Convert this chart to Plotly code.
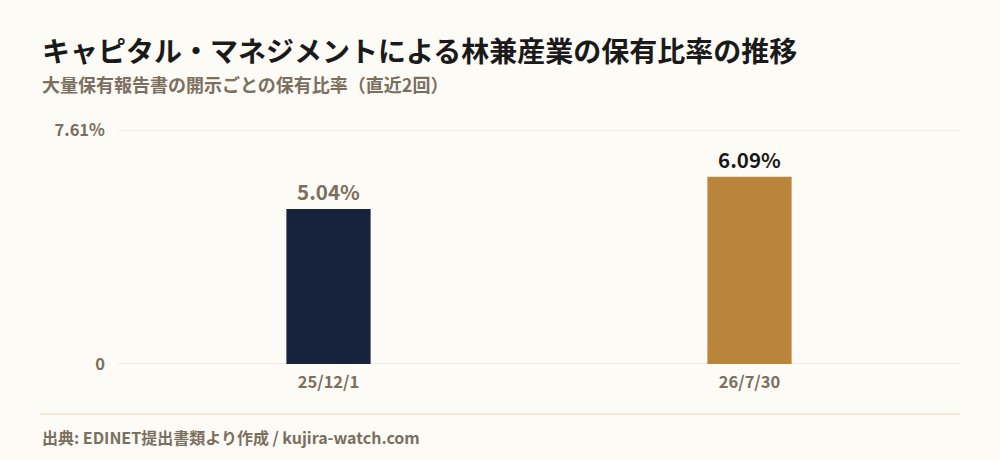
import plotly.graph_objects as go

# data
dates = ["25/12/1", "26/7/30"]
ratios = [5.04, 6.09]
y_max = 7.61
y_tickvals = [0, 7.61]
y_ticktext = ["0", "7.61%"]

TITLE = "キャピタル・マネジメントによる林兼産業の保有比率の推移"
SUBTITLE = "大量保有報告書の開示ごとの保有比率（直近2回）"
SOURCE = "出典: EDINET提出書類より作成 / kujira-watch.com"

BG = "#fdfbf6"
MUTED = "#7b6f60"
GRID = "#e8dbc3"
FONT = "Noto Sans CJK JP"

bar_colors = ["#17223b", "#b8853b"]
label_colors = [MUTED, "#1a1a1a"]

fig = go.Figure()
fig.add_trace(go.Bar(
    x=dates, y=ratios,
    marker=dict(color=bar_colors, line=dict(width=0)),
    width=0.2,
    text=[f"{v:.2f}%" for v in ratios],
    textposition="outside",
    textfont=dict(family=FONT, size=20.5, color=label_colors, weight="bold"),
    cliponaxis=False,
    hoverinfo="skip",
))

fig.update_layout(
    width=1000, height=460,
    paper_bgcolor=BG, plot_bgcolor=BG,
    margin=dict(l=118, r=40, t=130, b=96),
    showlegend=False,
    font=dict(family=FONT, color=MUTED),
)
fig.update_yaxes(
    range=[0, y_max], tickvals=y_tickvals, ticktext=y_ticktext,
    showgrid=False, zeroline=False,
    tickfont=dict(size=16.5, color=MUTED, weight="bold"), ticklabelstandoff=12,
)
fig.update_xaxes(
    showgrid=False, zeroline=False, showline=False,
    tickfont=dict(size=16.5, color=MUTED, weight="bold"), ticklabelstandoff=6,
)

# gridlines at the tick values (edges of the range get hidden by plotly)
for v in y_tickvals:
    fig.add_shape(type="line", xref="paper", yref="y", x0=0, x1=1, y0=v, y1=v,
                  line=dict(color=GRID, width=1), layer="below")

# title / subtitle / source
fig.add_annotation(text=TITLE, xref="paper", yref="paper", x=-0.0926, y=1.342,
                   xanchor="left", yanchor="middle", showarrow=False,
                   font=dict(size=28, color="#1a1a1a", weight="bold"))
fig.add_annotation(text=SUBTITLE, xref="paper", yref="paper", x=-0.0926, y=1.197,
                   xanchor="left", yanchor="middle", showarrow=False,
                   font=dict(size=18, color=MUTED, weight="bold"))
fig.add_annotation(text=SOURCE, xref="paper", yref="paper", x=-0.0926, y=-0.312,
                   xanchor="left", yanchor="middle", showarrow=False,
                   font=dict(size=16, color=MUTED, weight="bold"))
fig.add_shape(type="line", xref="paper", yref="paper", x0=-0.0926, x1=1.0,
              y0=-0.214, y1=-0.214, line=dict(color=GRID, width=1))

fig.write_html("out.html", config={"displayModeBar": False},
               post_script="document.body.style.margin='0';")
